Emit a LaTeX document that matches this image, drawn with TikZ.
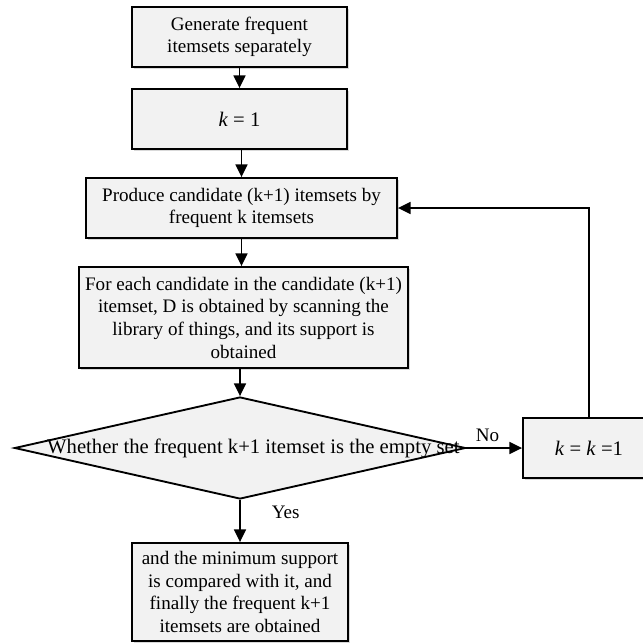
\documentclass[tikz,border=0pt]{standalone}
\usepackage{fontspec}
\setmainfont{Liberation Serif}
\usetikzlibrary{shapes.geometric}
\usetikzlibrary{arrows.meta}
\usetikzlibrary{shadows}
\definecolor{boxgray}{RGB}{242,242,242}

\begin{document}
\begin{tikzpicture}[x=0.75pt,y=-0.75pt,
  font=\fontsize{14.3}{17}\selectfont,
  procbox/.style={draw,line width=1.4pt,fill=boxgray,align=center,inner sep=1pt,
    drop shadow={shadow xshift=1.8pt,shadow yshift=-1.8pt,opacity=.3}},
  decision/.style={diamond,draw,line width=1.4pt,fill=boxgray,inner sep=0pt},
  flow/.style={line width=1.1pt,-{Triangle[length=9.5pt,width=9pt]}}]
  \useasboundingbox (0,0) rectangle (643,643);
  % boxes
  \node[procbox,minimum width=161.25pt,minimum height=45pt] (gen) at (239.5,37)
    {Generate frequent\\itemsets separately};
  \node[procbox,minimum width=161.25pt,minimum height=45pt] (kone) at (239.5,119)
    {\fontsize{15.5}{17}\selectfont\textit{k} = 1};
  \node[procbox,minimum width=233.25pt,minimum height=45pt] (prod) at (241.5,208)
    {Produce candidate (k+1) itemsets by\\frequent k itemsets};
  \node[procbox,minimum width=246.75pt,minimum height=75.75pt] (scan) at (243.5,317.5)
    {For each candidate in the candidate (k+1)\\itemset, D is obtained by scanning the\\library of things, and its support is\\obtained};
  \node[decision,minimum width=338.25pt,minimum height=76.5pt] (cond) at (240,448)
    {\makebox[0pt]{\fontsize{15.5}{17}\selectfont\kern 20pt Whether the frequent k+1 itemset is the empty set}};
  \node[procbox,minimum width=99pt,minimum height=45pt] (kk) at (589,448)
    {\fontsize{15.5}{17}\selectfont\textit{k} = \textit{k} =1};
  \node[procbox,minimum width=162pt,minimum height=73.5pt] (final) at (240,592)
    {and the minimum support\\is compared with it, and\\finally the frequent k+1\\itemsets are obtained};
  % arrows
  \draw[flow] (gen.south) -- (gen.south |- kone.north);
  \draw[flow] (prod.north |- kone.south) -- (prod.north);
  \draw[flow] (prod.south) -- (prod.south |- scan.north);
  \draw[flow] (cond.north |- scan.south) -- (cond.north);
  \draw[flow] (cond.south) -- node[pos=.3,right=20pt] {Yes} (final.north);
  \draw[flow] (cond.east) -- node[midway,above=1pt,xshift=-5pt] {No} (kk.west);
  \draw[flow] (kk.north) |- (prod.east);
\end{tikzpicture}
\end{document}
